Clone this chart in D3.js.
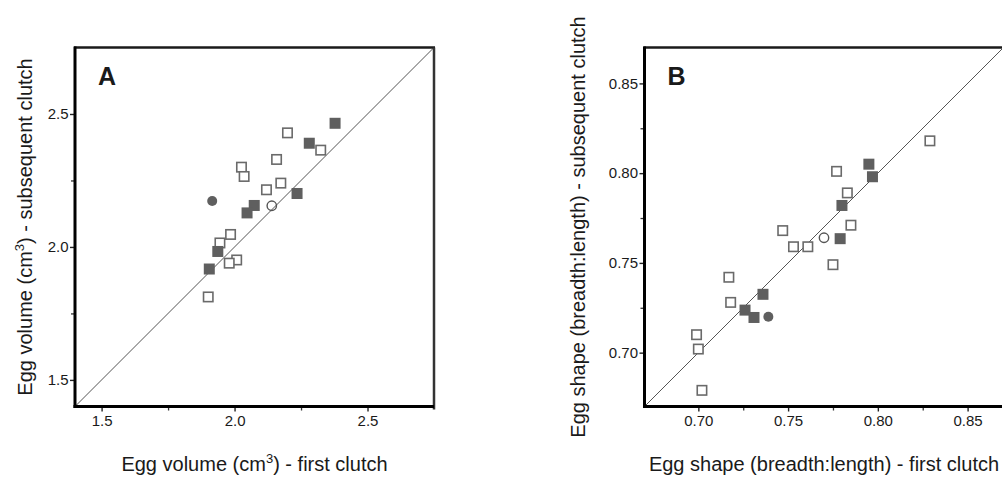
<!DOCTYPE html>
<html>
  <head>
    <script src="https://d3js.org/d3.v7.min.js"></script>
    <style>
      body { margin: 0; background: #fff; }
      svg text { font-family: "Liberation Sans", Arial, sans-serif; fill: #1a1a1a; }
      .tick text { font-size: 15px; }
    </style>
  </head>
  <body>
    <svg id="chart" width="1002" height="479"></svg>
    <script>
      // Panel A - egg volume (cm3), first clutch vs subsequent clutch
      var volOpenSq = [[2.199,2.429],[2.324,2.364],[2.158,2.329],[2.026,2.300],[2.036,2.265],[2.174,2.240],
                       [2.120,2.215],[1.985,2.047],[1.945,2.015],[2.008,1.951],[1.980,1.939],[1.901,1.812]];
      var volFilledSq = [[2.378,2.465],[2.281,2.390],[2.235,2.201],[2.074,2.156],[2.047,2.128],[1.937,1.983],[1.905,1.917]];
      var volFilledCirc = [[1.916,2.173]];
      var volOpenCirc = [[2.140,2.155]];
      var volDomain = [1.4, 2.75];
      var volTicks = [1.5, 2.0, 2.5];
      var volMinor = [1.75, 2.25];

      // Panel B - egg shape (breadth:length)
      var shapeOpenSq = [[0.829,0.818],[0.777,0.801],[0.783,0.789],[0.785,0.771],[0.747,0.768],[0.753,0.759],[0.761,0.759],
                         [0.775,0.749],[0.717,0.742],[0.718,0.728],[0.699,0.710],[0.700,0.702],[0.702,0.679]];
      var shapeFilledSq = [[0.795,0.805],[0.797,0.798],[0.780,0.782],[0.779,0.7635],[0.736,0.7325],[0.726,0.7237],[0.731,0.7196]];
      var shapeFilledCirc = [[0.739,0.720]];
      var shapeOpenCirc = [[0.770,0.764]];
      var shapeDomain = [0.67, 0.87];
      var shapeTicks = [0.70, 0.75, 0.80, 0.85];
      var shapeMinor = [0.725, 0.775, 0.825];

      var svg = d3.select("#chart");

      function drawPanel(opt) {
        var x = d3.scaleLinear().domain(opt.domain).range([opt.left, opt.left + 359]);
        var y = d3.scaleLinear().domain(opt.domain).range([406.5, 47.5]);
        var g = svg.append("g");
        var x0 = x.range()[0], x1 = x.range()[1], yb = y.range()[0], yt0 = y.range()[1];

        // diagonal 1:1 line
        g.append("line")
          .attr("x1", x(opt.domain[0])).attr("y1", y(opt.domain[0]))
          .attr("x2", x(opt.domain[1])).attr("y2", y(opt.domain[1]))
          .attr("stroke", "#555").attr("stroke-width", 1);

        // minor ticks
        g.append("g").attr("transform", "translate(0," + yb + ")")
          .call(d3.axisBottom(x).tickValues(opt.minor).tickFormat("").tickSize(4).tickSizeOuter(0))
          .call(function(s) { s.select(".domain").remove(); s.selectAll("line").attr("stroke", "#333").attr("stroke-width", 1.3); });
        g.append("g").attr("transform", "translate(" + x0 + ",0)")
          .call(d3.axisLeft(y).tickValues(opt.minor).tickFormat("").tickSize(4).tickSizeOuter(0))
          .call(function(s) { s.select(".domain").remove(); s.selectAll("line").attr("stroke", "#333").attr("stroke-width", 1.3); });

        // major axes
        var xa = g.append("g").attr("transform", "translate(0," + yb + ")")
          .call(d3.axisBottom(x).tickValues(opt.ticks).tickFormat(d3.format(opt.fmt)).tickSize(5).tickPadding(4).tickSizeOuter(0));
        var ya = g.append("g").attr("transform", "translate(" + x0 + ",0)")
          .call(d3.axisLeft(y).tickValues(opt.ticks).tickFormat(d3.format(opt.fmt)).tickSize(5).tickPadding(1.5).tickSizeOuter(0));
        [xa, ya].forEach(function(a) {
          a.select(".domain").remove();
          a.selectAll(".tick line").attr("stroke", "#222").attr("stroke-width", 1.4);
          a.selectAll(".tick text").attr("fill", "#1a1a1a").style("font-size", "15px");
          a.attr("font-family", null).attr("font-size", null);
        });

        // markers
        g.selectAll(".osq").data(opt.openSq).enter().append("rect")
          .attr("x", function(d) { return x(d[0]) - 4.7; })
          .attr("y", function(d) { return y(d[1]) - 4.7; })
          .attr("width", 9.4).attr("height", 9.4)
          .attr("fill", "#fff").attr("stroke", "#6a6a6a").attr("stroke-width", 1.6);
        g.selectAll(".fsq").data(opt.filledSq).enter().append("rect")
          .attr("x", function(d) { return x(d[0]) - 5.5; })
          .attr("y", function(d) { return y(d[1]) - 5.5; })
          .attr("width", 11).attr("height", 11)
          .attr("fill", "#5f5f5f");
        g.selectAll(".fc").data(opt.filledCirc).enter().append("circle")
          .attr("cx", function(d) { return x(d[0]); })
          .attr("cy", function(d) { return y(d[1]); })
          .attr("r", 5).attr("fill", "#5f5f5f");
        g.selectAll(".oc").data(opt.openCirc).enter().append("circle")
          .attr("cx", function(d) { return x(d[0]); })
          .attr("cy", function(d) { return y(d[1]); })
          .attr("r", 4.7).attr("fill", "none").attr("stroke", "#555").attr("stroke-width", 1.4);

        // frame: heavy left/bottom, lighter top/right
        g.append("line").attr("x1", x0 - 1).attr("x2", x1 + 1).attr("y1", yt0).attr("y2", yt0)
          .attr("stroke", "#1a1a1a").attr("stroke-width", 2.5);
        g.append("line").attr("x1", x1).attr("x2", x1).attr("y1", yt0).attr("y2", yb + 3)
          .attr("stroke", "#333").attr("stroke-width", 2.5);
        g.append("line").attr("x1", x0).attr("x2", x0).attr("y1", yt0 - 1).attr("y2", yb + 1.5)
          .attr("stroke", "#000").attr("stroke-width", 3);
        g.append("line").attr("x1", x0 - 1.5).attr("x2", x1).attr("y1", yb).attr("y2", yb)
          .attr("stroke", "#000").attr("stroke-width", 3);

        // panel letter
        g.append("text").attr("x", x0 + 23).attr("y", 85)
          .style("font-size", "25px").style("font-weight", "bold").text(opt.letter);

        // axis titles
        var cx = (x0 + x1) / 2;
        var xt = g.append("text").attr("x", cx).attr("y", 471).attr("text-anchor", "middle").style("font-size", "20px");
        opt.xTitle(xt);
        var yt = g.append("text").attr("transform", "translate(" + opt.yTitleX + ",227) rotate(-90)")
          .attr("text-anchor", "middle").style("font-size", "20px");
        opt.yTitle(yt);
      }

      function volTitle(suffix) {
        return function(t) {
          t.append("tspan").text("Egg volume (cm");
          t.append("tspan").attr("dy", -8).style("font-size", "13px").text("3");
          t.append("tspan").attr("dy", 8).text(") - " + suffix);
        };
      }

      drawPanel({
        left: 75, domain: volDomain, ticks: volTicks, minor: volMinor, fmt: ".1f",
        openSq: volOpenSq, filledSq: volFilledSq, filledCirc: volFilledCirc, openCirc: volOpenCirc,
        letter: "A", yTitleX: 32,
        xTitle: volTitle("first clutch"), yTitle: volTitle("subsequent clutch")
      });

      drawPanel({
        left: 644.5, domain: shapeDomain, ticks: shapeTicks, minor: shapeMinor, fmt: ".2f",
        openSq: shapeOpenSq, filledSq: shapeFilledSq, filledCirc: shapeFilledCirc, openCirc: shapeOpenCirc,
        letter: "B", yTitleX: 585,
        xTitle: function(t) { t.text("Egg shape (breadth:length) - first clutch"); },
        yTitle: function(t) { t.text("Egg shape (breadth:length) - subsequent clutch"); }
      });
    </script>
  </body>
</html>
